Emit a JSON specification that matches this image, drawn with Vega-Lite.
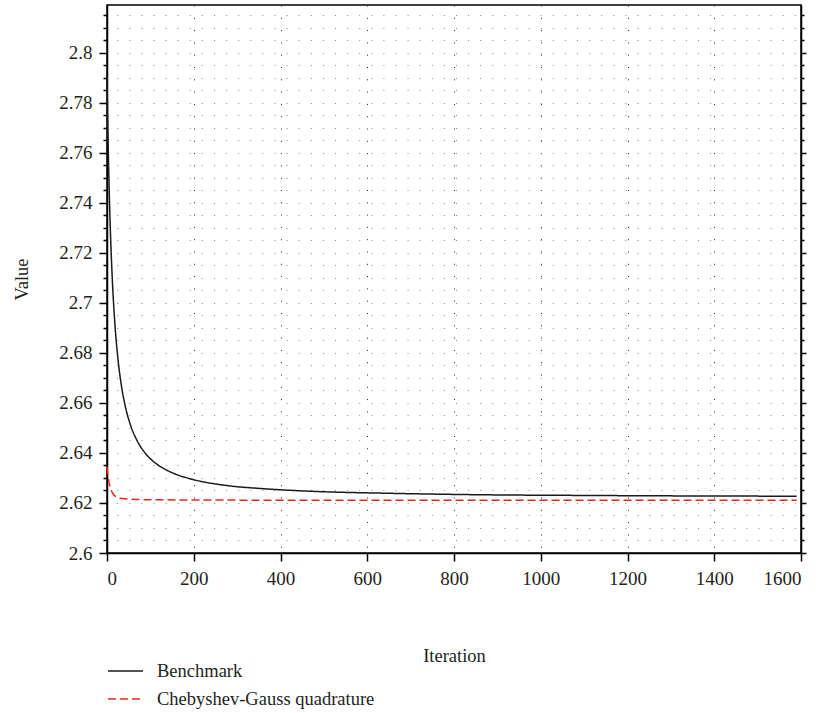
{
  "$schema": "https://vega.github.io/schema/vega-lite/v6.json",
  "width": 694,
  "height": 548,
  "autosize": "none",
  "padding": {"left": 107, "top": 5, "right": 22, "bottom": 160},
  "background": "white",
  "config": {
    "view": {"stroke": "#000", "strokeWidth": 1.5},
    "font": "Liberation Serif",
    "style": {"guide-label": {"font": "Liberation Serif"}, "guide-title": {"font": "Liberation Serif"}},
    "axis": {
      "domainColor": "#000", "tickColor": "#000", "domainWidth": 1.5, "tickWidth": 1.5,
      "labelColor": "#231f20", "titleColor": "#231f20",
      "labelFont": "Liberation Serif", "titleFont": "Liberation Serif",
      "labelFontSize": 19, "titleFontSize": 18.5, "titleFontWeight": "normal"
    }
  },
  "data": {"values": [
    {"it": 0, "v": 2.7903, "s": "Benchmark"},
    {"it": 1, "v": 2.7790, "s": "Benchmark"},
    {"it": 2, "v": 2.7691, "s": "Benchmark"},
    {"it": 3, "v": 2.7603, "s": "Benchmark"},
    {"it": 5, "v": 2.7454, "s": "Benchmark"},
    {"it": 7, "v": 2.7330, "s": "Benchmark"},
    {"it": 10, "v": 2.7183, "s": "Benchmark"},
    {"it": 14, "v": 2.7033, "s": "Benchmark"},
    {"it": 19, "v": 2.6896, "s": "Benchmark"},
    {"it": 25, "v": 2.6780, "s": "Benchmark"},
    {"it": 33, "v": 2.6671, "s": "Benchmark"},
    {"it": 43, "v": 2.6580, "s": "Benchmark"},
    {"it": 55, "v": 2.6507, "s": "Benchmark"},
    {"it": 70, "v": 2.6447, "s": "Benchmark"},
    {"it": 90, "v": 2.6395, "s": "Benchmark"},
    {"it": 115, "v": 2.6355, "s": "Benchmark"},
    {"it": 150, "v": 2.6321, "s": "Benchmark"},
    {"it": 200, "v": 2.6293, "s": "Benchmark"},
    {"it": 270, "v": 2.6271, "s": "Benchmark"},
    {"it": 360, "v": 2.6257, "s": "Benchmark"},
    {"it": 480, "v": 2.6246, "s": "Benchmark"},
    {"it": 640, "v": 2.6239, "s": "Benchmark"},
    {"it": 850, "v": 2.6233, "s": "Benchmark"},
    {"it": 1100, "v": 2.6230, "s": "Benchmark"},
    {"it": 1350, "v": 2.6228, "s": "Benchmark"},
    {"it": 1590, "v": 2.6227, "s": "Benchmark"},
    {"it": 0, "v": 2.6345, "s": "Chebyshev-Gauss quadrature"},
    {"it": 2, "v": 2.6312, "s": "Chebyshev-Gauss quadrature"},
    {"it": 4, "v": 2.6288, "s": "Chebyshev-Gauss quadrature"},
    {"it": 7, "v": 2.6266, "s": "Chebyshev-Gauss quadrature"},
    {"it": 10, "v": 2.6250, "s": "Chebyshev-Gauss quadrature"},
    {"it": 15, "v": 2.6234, "s": "Chebyshev-Gauss quadrature"},
    {"it": 22, "v": 2.6224, "s": "Chebyshev-Gauss quadrature"},
    {"it": 30, "v": 2.6219, "s": "Chebyshev-Gauss quadrature"},
    {"it": 45, "v": 2.6216, "s": "Chebyshev-Gauss quadrature"},
    {"it": 65, "v": 2.6214, "s": "Chebyshev-Gauss quadrature"},
    {"it": 100, "v": 2.6213, "s": "Chebyshev-Gauss quadrature"},
    {"it": 200, "v": 2.6212, "s": "Chebyshev-Gauss quadrature"},
    {"it": 400, "v": 2.6211, "s": "Chebyshev-Gauss quadrature"},
    {"it": 800, "v": 2.6211, "s": "Chebyshev-Gauss quadrature"},
    {"it": 1200, "v": 2.6211, "s": "Chebyshev-Gauss quadrature"},
    {"it": 1590, "v": 2.6211, "s": "Chebyshev-Gauss quadrature"}
  ]},
  "resolve": {"axis": {"y": "independent"}},
  "encoding": {
    "x": {
      "field": "it", "type": "quantitative",
      "scale": {"domain": [0, 1600], "nice": false, "zero": false},
      "axis": {
        "values": [0, 200, 400, 600, 800, 1000, 1200, 1400, 1600],
        "format": "d", "title": "Iteration", "tickSize": 8, "labelPadding": 8,
        "labelFont": "Liberation Serif", "titleFont": "Liberation Serif",
        "titlePadding": 58, "gridDash": [1, 11.3], "gridColor": "#222", "gridWidth": 1
      }
    },
    "color": {
      "field": "s", "type": "nominal",
      "scale": {"domain": ["Benchmark", "Chebyshev-Gauss quadrature"], "range": ["#1a1a1a", "#e8281e"]},
      "legend": {
        "title": null, "orient": "none", "legendX": 0, "legendY": 656,
        "symbolType": "stroke", "symbolSize": 1225, "symbolStrokeWidth": 1.5,
        "labelFont": "Liberation Serif", "labelFontSize": 18.5, "labelColor": "#231f20",
        "labelOffset": 13, "clipHeight": 20, "rowPadding": 8, "labelLimit": 400, "padding": 0
      }
    },
    "strokeDash": {
      "field": "s", "type": "nominal",
      "scale": {"domain": ["Benchmark", "Chebyshev-Gauss quadrature"], "range": [[1, 0], [8, 4]]},
      "legend": {
        "title": null, "orient": "none", "legendX": 0, "legendY": 656,
        "symbolType": "stroke", "symbolSize": 1225, "symbolStrokeWidth": 1.5,
        "labelFont": "Liberation Serif", "labelFontSize": 18.5, "labelColor": "#231f20",
        "labelOffset": 13, "clipHeight": 20, "rowPadding": 8, "labelLimit": 400, "padding": 0
      }
    }
  },
  "layer": [
    {
      "transform": [{"filter": "datum.s === 'Benchmark'"}],
      "mark": {"type": "line", "strokeWidth": 1.5, "interpolate": "monotone"},
      "encoding": {
        "y": {
          "field": "v", "type": "quantitative",
          "scale": {"domain": [2.6, 2.819], "nice": false, "zero": false},
          "axis": {
            "values": [2.6, 2.605, 2.61, 2.615, 2.62, 2.625, 2.63, 2.635, 2.64, 2.645, 2.65, 2.655, 2.66, 2.665, 2.67, 2.675, 2.68, 2.685, 2.69, 2.695, 2.7, 2.705, 2.71, 2.715, 2.72, 2.725, 2.73, 2.735, 2.74, 2.745, 2.75, 2.755, 2.76, 2.765, 2.77, 2.775, 2.78, 2.785, 2.79, 2.795, 2.8, 2.805, 2.81, 2.815],
            "labelExpr": "abs(datum.value*50 - round(datum.value*50)) < 0.01 ? '' + datum.value : ''",
            "tickSize": {"condition": {"test": "abs(datum.value*50 - round(datum.value*50)) < 0.01", "value": 8}, "value": 4},
            "labelFont": "Liberation Serif", "titleFont": "Liberation Serif",
            "labelPadding": 7, "title": "Value", "titlePadding": 27,
            "gridDash": [1, 11.1], "gridDashOffset": 2.4, "gridColor": "#888", "gridWidth": 1
          }
        }
      }
    },
    {
      "transform": [{"filter": "datum.s !== 'Benchmark'"}],
      "mark": {"type": "line", "strokeWidth": 1.5, "interpolate": "monotone"},
      "encoding": {
        "y": {
          "field": "v", "type": "quantitative",
          "scale": {"domain": [2.6, 2.819], "nice": false, "zero": false},
          "axis": {
            "orient": "right",
            "values": [2.6, 2.605, 2.61, 2.615, 2.62, 2.625, 2.63, 2.635, 2.64, 2.645, 2.65, 2.655, 2.66, 2.665, 2.67, 2.675, 2.68, 2.685, 2.69, 2.695, 2.7, 2.705, 2.71, 2.715, 2.72, 2.725, 2.73, 2.735, 2.74, 2.745, 2.75, 2.755, 2.76, 2.765, 2.77, 2.775, 2.78, 2.785, 2.79, 2.795, 2.8, 2.805, 2.81, 2.815],
            "labels": false, "title": null, "grid": false,
            "tickSize": {"condition": {"test": "abs(datum.value*50 - round(datum.value*50)) < 0.01", "value": 5}, "value": 3}
          }
        }
      }
    }
  ]
}
